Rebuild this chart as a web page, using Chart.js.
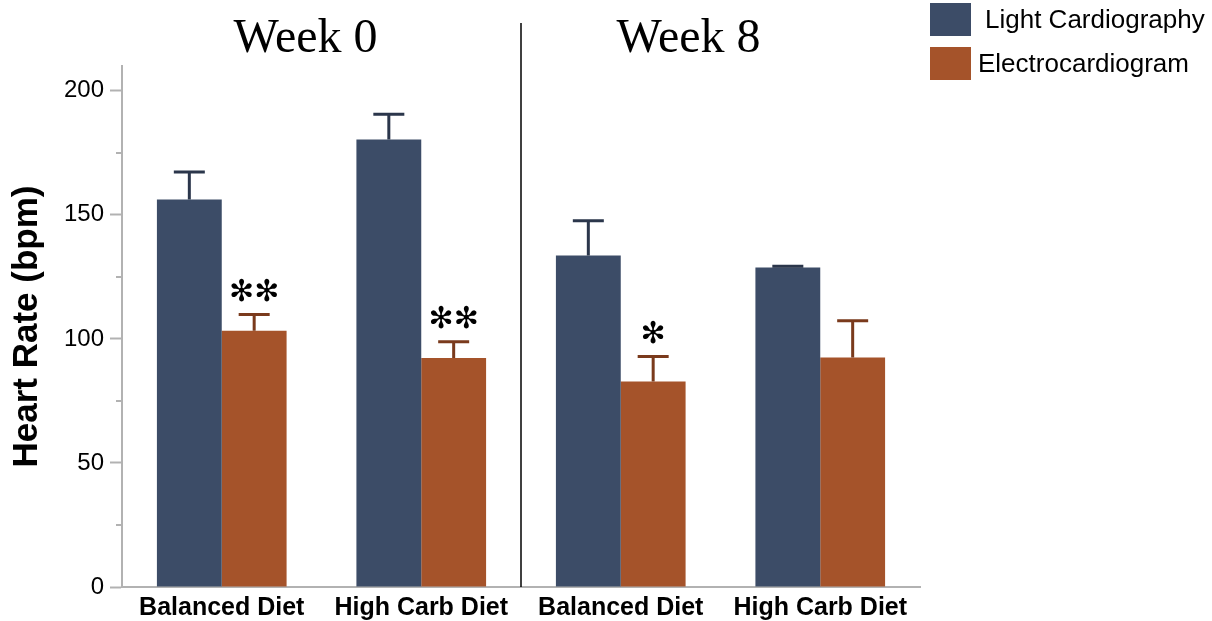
<!DOCTYPE html>
<html>
<head>
<meta charset="utf-8">
<script src="https://cdn.jsdelivr.net/npm/chart.js@4.4.1/dist/chart.umd.min.js"></script>
<style>
  html, body { margin: 0; padding: 0; background: #ffffff; }
  canvas { display: block; }
</style>
</head>
<body>
<canvas id="hr" width="1212" height="621"></canvas>
<script>
// Heart rate by diet group, measured with two methods, at week 0 and week 8
const categories = ['Balanced Diet', 'High Carb Diet', 'Balanced Diet', 'High Carb Diet'];
const periodTitles = ['Week 0', 'Week 8'];
const seriesNames = ['Light Cardiography', 'Electrocardiogram'];

const lightValues = [156.2, 180.4, 133.6, 128.8];
const lightErrors = [11.1, 10.2, 14.0, 0.5];

const ecgValues = [103.3, 92.3, 82.8, 92.5];
const ecgErrors = [6.5, 6.6, 10.1, 14.8];
const ecgMarks = ['**', '**', '*', ''];

const majorTicks = [0, 50, 100, 150, 200];
const minorTicks = [25, 75, 125, 175];

const COLORS = {
  light: '#3c4c67',
  lightErr: '#2b364b',
  ecg: '#a5532a',
  ecgErr: '#7a3a1c',
  axis: '#b2b2b2'
};

const SANS = '"Liberation Sans", Arial, Helvetica, sans-serif';
const SERIF = '"Liberation Serif", "Times New Roman", serif';

// Upward error bars with caps, plus significance marks
const errorBarPlugin = {
  id: 'errorBars',
  afterDatasetsDraw(chart) {
    const ctx = chart.ctx;
    const y = chart.scales.y;
    chart.data.datasets.forEach((ds, di) => {
      const meta = chart.getDatasetMeta(di);
      meta.data.forEach((bar, i) => {
        const top = y.getPixelForValue(ds.data[i] + ds.errors[i]);
        const base = y.getPixelForValue(ds.data[i]);
        ctx.save();
        ctx.strokeStyle = ds.errorColor;
        ctx.lineWidth = 3;
        ctx.beginPath();
        ctx.moveTo(bar.x, base);
        ctx.lineTo(bar.x, top);
        ctx.moveTo(bar.x - 15.5, top);
        ctx.lineTo(bar.x + 15.5, top);
        ctx.stroke();
        const mark = ds.marks ? ds.marks[i] : '';
        if (mark) {
          ctx.fillStyle = '#000';
          ctx.font = '30px "DejaVu Sans", sans-serif';
          ctx.textAlign = 'center';
          ctx.textBaseline = 'alphabetic';
          ctx.fillText(mark.replace(/\*/g, '\u273B'), bar.x, top - 14);
        }
        ctx.restore();
      });
    });
  }
};

// Minor y ticks, week divider, week headings and legend
const decorPlugin = {
  id: 'decor',
  afterDraw(chart) {
    const ctx = chart.ctx;
    const x = chart.scales.x;
    const y = chart.scales.y;
    const area = chart.chartArea;
    ctx.save();

    ctx.strokeStyle = COLORS.axis;
    ctx.lineWidth = 2;
    minorTicks.forEach(v => {
      const py = Math.round(y.getPixelForValue(v));
      ctx.beginPath();
      ctx.moveTo(area.left - 6, py);
      ctx.lineTo(area.left, py);
      ctx.stroke();
    });

    const midX = x.getPixelForValue(1.5);
    ctx.strokeStyle = '#000';
    ctx.lineWidth = 1.5;
    ctx.beginPath();
    ctx.moveTo(midX, 23);
    ctx.lineTo(midX, area.bottom);
    ctx.stroke();

    ctx.fillStyle = '#000';
    ctx.font = '48px ' + SERIF;
    ctx.textAlign = 'center';
    ctx.textBaseline = 'alphabetic';
    const c0 = (x.getPixelForValue(0) + x.getPixelForValue(1)) / 2 - 16;
    const c1 = (x.getPixelForValue(2) + x.getPixelForValue(3)) / 2 - 32;
    ctx.fillText(periodTitles[0], c0, 52);
    ctx.fillText(periodTitles[1], c1, 52);

    ctx.font = '26px ' + SANS;
    ctx.textAlign = 'left';
    chart.data.datasets.forEach((ds, i) => {
      const top = 3 + i * 44;
      ctx.fillStyle = ds.backgroundColor;
      ctx.fillRect(930, top, 41, 33);
      ctx.fillStyle = '#000';
      ctx.fillText(ds.label, i === 0 ? 985 : 978, top + 25);
    });
    ctx.restore();
  }
};

new Chart(document.getElementById('hr'), {
  type: 'bar',
  data: {
    labels: categories,
    datasets: [
      {
        label: seriesNames[0],
        data: lightValues,
        errors: lightErrors,
        errorColor: COLORS.lightErr,
        backgroundColor: COLORS.light,
        categoryPercentage: 0.65,
        barPercentage: 1.0
      },
      {
        label: seriesNames[1],
        data: ecgValues,
        errors: ecgErrors,
        marks: ecgMarks,
        errorColor: COLORS.ecgErr,
        backgroundColor: COLORS.ecg,
        categoryPercentage: 0.65,
        barPercentage: 1.0
      }
    ]
  },
  options: {
    responsive: false,
    animation: false,
    layout: { padding: { top: 66, right: 292, left: 0, bottom: 0 } },
    plugins: {
      legend: { display: false },
      tooltip: { enabled: false }
    },
    scales: {
      x: {
        grid: { display: false, drawTicks: false },
        border: { color: COLORS.axis, width: 2 },
        ticks: {
          color: '#000',
          padding: 6,
          maxRotation: 0,
          autoSkip: false,
          font: { family: SANS, size: 25, weight: 'bold' }
        },
        afterFit(scale) { scale.height = 34; }
      },
      y: {
        min: 0,
        max: 210,
        afterBuildTicks(scale) {
          scale.ticks = majorTicks.map(v => ({ value: v }));
        },
        afterFit(scale) { scale.width = 122; },
        grid: {
          drawOnChartArea: false,
          tickLength: 12,
          tickWidth: 2,
          tickColor: COLORS.axis
        },
        border: { color: COLORS.axis, width: 2 },
        ticks: {
          color: '#000',
          padding: 6,
          font: { family: SANS, size: 24 }
        },
        title: {
          display: true,
          text: 'Heart Rate (bpm)',
          color: '#000',
          font: { family: SANS, size: 35, weight: 'bold' },
          padding: { top: 6, bottom: 0 }
        }
      }
    }
  },
  plugins: [errorBarPlugin, decorPlugin]
});
</script>
</body>
</html>
